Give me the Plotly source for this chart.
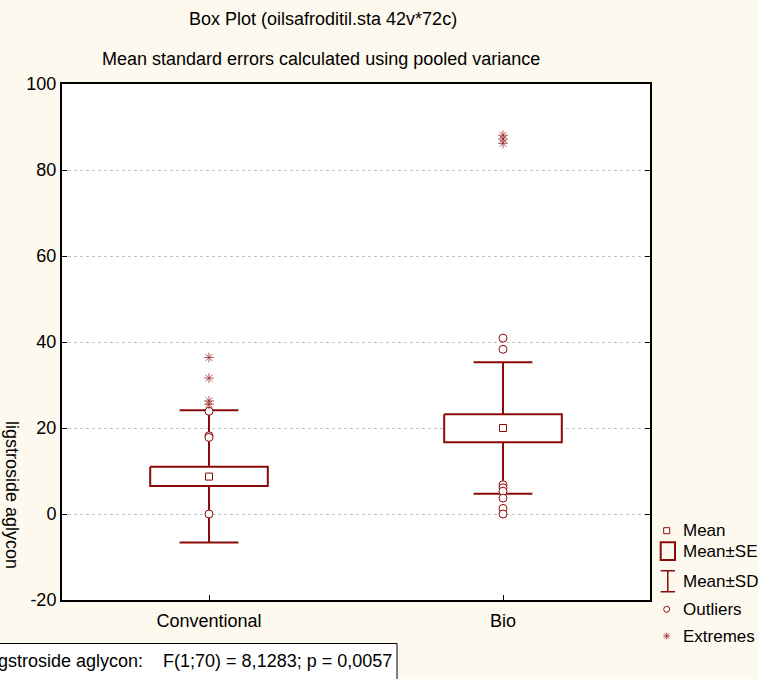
import plotly.graph_objects as go

# ---------------- data ----------------
categories = ["Conventional", "Bio"]
means = [8.7, 20.0]
se_low = [6.5, 16.7]
se_high = [11.0, 23.2]
sd_low = [-6.6, 4.7]
sd_high = [24.1, 35.3]
outliers_conv = [23.9, 18.2, 17.8, 0.0]
outliers_bio = [40.9, 38.3, 6.8, 6.1, 5.3, 3.7, 1.3, 0.0]
extremes_conv = [36.4, 31.6, 26.3, 25.5]
extremes_bio = [88.1, 87.2, 86.2]
y_ticks = [-20, 0, 20, 40, 60, 80, 100]

title1 = "Box Plot (oilsafroditil.sta 42v*72c)"
title2 = "Mean standard errors calculated using pooled variance"
y_title = "ligstroside aglycon"
stat_text = "ligstroside aglycon:\u00a0\u00a0\u00a0\u00a0F(1;70) = 8,1283; p = 0,0057"
legend_labels = ["Mean", "Mean±SE", "Mean±SD", "Outliers", "Extremes"]

# ---------------- style ----------------
W, H = 758, 679
ML, MR, MT, MB = 62, 108, 84, 79
PW, PH = W - ML - MR, H - MT - MB
RED = "#8B0A0A"
BG = "#FEF9EE"
FONT = "Liberation Sans, Arial, sans-serif"
FS = 18
LEG_FS = 17
BOX_HW = 0.2
CAP_HW = 0.1


def px(x):
    return (x - ML) / PW


def py(y):
    return (H - MB - y) / PH


fig = go.Figure()

# whiskers (Mean±SD)
wx, wy = [], []
for i in range(len(categories)):
    wx += [i, i, None, i - CAP_HW, i + CAP_HW, None, i - CAP_HW, i + CAP_HW, None]
    wy += [sd_low[i], sd_high[i], None, sd_high[i], sd_high[i], None, sd_low[i], sd_low[i], None]
fig.add_trace(go.Scatter(x=wx, y=wy, mode="lines", line=dict(color=RED, width=2),
                         hoverinfo="skip", showlegend=False))

# boxes (Mean±SE)
bx, by = [], []
for i in range(len(categories)):
    bx += [i - BOX_HW, i + BOX_HW, i + BOX_HW, i - BOX_HW, i - BOX_HW, None]
    by += [se_high[i], se_high[i], se_low[i], se_low[i], se_high[i], None]
fig.add_trace(go.Scatter(x=bx, y=by, mode="lines", fill="toself", fillcolor="white",
                         line=dict(color=RED, width=2), hoverinfo="skip", showlegend=False))

# means
fig.add_trace(go.Scatter(x=list(range(len(categories))), y=means, mode="markers",
                         marker=dict(symbol="square", size=7, color="white",
                                     line=dict(color=RED, width=1)),
                         showlegend=False))

# outliers
ox = [0] * len(outliers_conv) + [1] * len(outliers_bio)
oy = outliers_conv + outliers_bio
fig.add_trace(go.Scatter(x=ox, y=oy, mode="markers",
                         marker=dict(symbol="circle", size=8, color="white",
                                     line=dict(color=RED, width=1)),
                         showlegend=False))

# extremes
ex = [0] * len(extremes_conv) + [1] * len(extremes_bio)
ey = extremes_conv + extremes_bio
fig.add_trace(go.Scatter(x=ex, y=ey, mode="markers",
                         marker=dict(symbol="asterisk-open", size=8, color="#9a2a2a",
                                     line=dict(color="#9a2a2a", width=0.8)),
                         showlegend=False))

shapes = []
# legend: mean square
shapes.append(dict(type="rect", xref="paper", yref="paper",
                   x0=px(663.7), x1=px(669.7), y0=py(527.7), y1=py(533.7),
                   line=dict(color=RED, width=1), fillcolor="white"))
# legend SE box
shapes.append(dict(type="rect", xref="paper", yref="paper",
                   x0=px(660.7), x1=px(675), y0=py(542.3), y1=py(560),
                   line=dict(color=RED, width=2), fillcolor="rgba(0,0,0,0)"))
# legend SD I-shape
shapes.append(dict(type="path", xref="paper", yref="paper",
                   path=f"M {px(660.7)},{py(570.7)} L {px(675)},{py(570.7)} "
                        f"M {px(667.8)},{py(570.7)} L {px(667.8)},{py(591.7)} "
                        f"M {px(660.7)},{py(591.7)} L {px(675)},{py(591.7)}",
                   line=dict(color=RED, width=1.5)))
# legend outlier circle
shapes.append(dict(type="circle", xref="paper", yref="paper",
                   x0=px(663.7), x1=px(669.7), y0=py(606.3), y1=py(612.3),
                   line=dict(color=RED, width=1), fillcolor="white"))
# legend extreme asterisk
cx, cy, r = 666.7, 636.0, 3.5
shapes.append(dict(type="path", xref="paper", yref="paper",
                   path=f"M {px(cx)},{py(cy - r)} L {px(cx)},{py(cy + r)} "
                        f"M {px(cx - r)},{py(cy)} L {px(cx + r)},{py(cy)} "
                        f"M {px(cx - r * 0.75)},{py(cy - r * 0.75)} L {px(cx + r * 0.75)},{py(cy + r * 0.75)} "
                        f"M {px(cx - r * 0.75)},{py(cy + r * 0.75)} L {px(cx + r * 0.75)},{py(cy - r * 0.75)}",
                   line=dict(color="#9a2a2a", width=0.8)))
# stats box
shapes.append(dict(type="rect", xref="paper", yref="paper",
                   x0=px(-5), x1=px(397), y0=py(643.5), y1=py(700),
                   line=dict(color="black", width=1), fillcolor="white", layer="above"))

annotations = []
annotations.append(dict(text=title1, x=px(322.5), y=py(19), xref="paper", yref="paper",
                        showarrow=False, xanchor="center", yanchor="middle",
                        font=dict(family=FONT, size=FS, color="black")))
annotations.append(dict(text=title2, x=px(320.5), y=py(59), xref="paper", yref="paper",
                        showarrow=False, xanchor="center", yanchor="middle",
                        font=dict(family=FONT, size=FS, color="black")))
annotations.append(dict(text=y_title, x=px(12), y=py(495), xref="paper", yref="paper",
                        showarrow=False, textangle=90, xanchor="center", yanchor="middle",
                        font=dict(family=FONT, size=FS, color="black")))
annotations.append(dict(text=stat_text, x=px(394), y=py(661), xref="paper", yref="paper",
                        showarrow=False, xanchor="right", yanchor="middle",
                        font=dict(family=FONT, size=FS, color="black")))
legend_y = [530.7, 551.7, 581.7, 609.3, 636]
for lab, ly in zip(legend_labels, legend_y):
    annotations.append(dict(text=lab, x=px(681), y=py(ly), xref="paper", yref="paper",
                            showarrow=False, xanchor="left", yanchor="middle",
                            font=dict(family=FONT, size=LEG_FS, color="black")))

fig.update_layout(
    width=W, height=H, autosize=False,
    margin=dict(l=ML, r=MR, t=MT, b=MB, pad=0, autoexpand=False),
    paper_bgcolor=BG, plot_bgcolor="white",
    font=dict(family=FONT, size=FS, color="black"),
    showlegend=False,
    xaxis=dict(range=[-0.5, 1.5], automargin=False,
               tickmode="array", tickvals=list(range(len(categories))), ticktext=categories,
               ticks="inside", ticklen=5, tickwidth=1, tickcolor="black",
               ticklabelstandoff=3,
               showline=True, linecolor="black", linewidth=2, mirror=True,
               showgrid=False, zeroline=False, fixedrange=True,
               tickfont=dict(family=FONT, size=FS, color="black")),
    yaxis=dict(range=[-20, 100], automargin=False,
               tickmode="array", tickvals=y_ticks, ticktext=[str(v) for v in y_ticks],
               ticks="inside", ticklen=5, tickwidth=1, tickcolor="black",
               showline=True, linecolor="black", linewidth=2, mirror="ticks",
               showgrid=True, gridcolor="#c4c4c4", griddash="dot", gridwidth=1,
               zeroline=False, fixedrange=True,
               tickfont=dict(family=FONT, size=FS, color="black")),
    shapes=shapes,
    annotations=annotations,
)

fig.write_html("out.html", config={"displayModeBar": False},
               post_script="document.body.style.margin='0';")
